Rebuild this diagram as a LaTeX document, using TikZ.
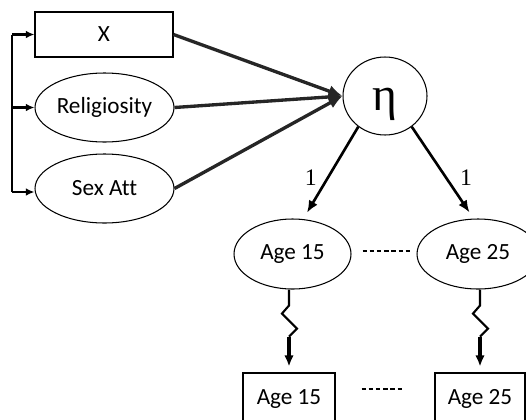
\documentclass[tikz,border=0pt]{standalone}
\usepackage{fontspec}
\setmainfont{Liberation Serif}
\newfontfamily\carlito{Carlito}[Ligatures=NoCommon]
\usetikzlibrary{shapes.geometric,arrows.meta}
\newcommand\lblfont{\carlito\fontsize{13.2}{15}\selectfont}
\tikzset{
  obsbox/.style={draw, rectangle, line width=0.6pt, inner sep=0pt, font=\lblfont},
  latent/.style={draw, ellipse, line width=0.6pt, inner sep=0pt, font=\lblfont},
  loadlabel/.style={font=\fontsize{13.5}{15}\selectfont, inner sep=0pt},
  brkline/.style={line width=1.2pt},
  brkarrow/.style={line width=1.2pt, -{Latex[length=0.17cm,width=0.15cm]}},
  pathline/.style={line width=1.9pt, black!85, -{Latex[length=0.28cm,width=0.24cm]}},
  loadline/.style={line width=1.5pt, -{Latex[length=0.24cm,width=0.2cm]}, shorten >=0.15cm},
  zigline/.style={line width=1.2pt, line join=miter},
  measline/.style={line width=1.8pt, -{Latex[length=0.22cm,width=0.19cm]}, shorten >=0.12cm},
  dashline/.style={line width=0.9pt, dash pattern=on 2.6pt off 1.5pt}
}
\begin{document}
\begin{tikzpicture}[x=0.02cm,y=-0.02cm]
\useasboundingbox (0,0) rectangle (526,419);
\clip (0,0) rectangle (526,419);
% predictors
\node[obsbox, minimum width=2.76cm, minimum height=0.9cm] (x) at (104,34.5) {X};
\node[latent, minimum width=2.78cm, minimum height=1.38cm] (relig) at (104.5,107.5) {Religiosity};
\node[latent, minimum width=2.78cm, minimum height=1.38cm] (sexatt) at (104.5,188.5) {Sex Att};
% correlations among predictors
\coordinate (btop) at (12,34.5);
\coordinate (bbot) at (12,192);
\draw[brkline] (btop) -- (bbot);
\draw[brkarrow] (btop) -- (x.west);
\draw[brkarrow] (btop |- relig.west) -- (relig.west);
\draw[brkarrow] (bbot) -- (sexatt.west |- bbot);
% growth factor
\node[draw, ellipse, line width=0.6pt, inner sep=0pt, minimum width=1.68cm, minimum height=1.56cm,
  font=\fontsize{27}{30}\selectfont, text height=0.59cm, text depth=0pt] (eta) at (385,96) {η};
\foreach \n in {x,relig,sexatt}{
  \draw[pathline] (\n.east) -- (eta.west);
}
% repeated measures
\node[latent, minimum width=2.34cm, minimum height=1.4cm] (age15) at (292.5,254) {Age 15};
\node[latent, minimum width=2.44cm, minimum height=1.4cm] (age25) at (478,254) {Age 25};
\node[obsbox, minimum width=1.84cm, minimum height=1.04cm] (obs15) at (289,399) {Age 15};
\node[obsbox, minimum width=1.80cm, minimum height=1.04cm] (obs25) at (480,399) {Age 25};
\draw[loadline] (eta.229) -- node[loadlabel, left=0.2cm, pos=0.55] {1} (age15.73);
\draw[loadline] (eta.311) -- node[loadlabel, right=0.26cm, pos=0.55] {1} (age25.97);
\draw[dashline, shorten <=0.22cm, shorten >=0.08cm] (age15.east |- 0,251) -- (age25.west |- 0,251);
\draw[dashline, shorten <=0.52cm, shorten >=0.6cm] (obs15.east |- 0,389) -- (obs25.west |- 0,389);
\foreach \n in {15,25}{
  \draw[zigline] (obs\n.north |- age\n.south) -- ++(0,16) -- ++(-7,8) -- ++(15,15) -- ++(-8,8) coordinate (z\n);
  \draw[measline] (z\n) -- (obs\n.north);
}
\end{tikzpicture}
\end{document}
